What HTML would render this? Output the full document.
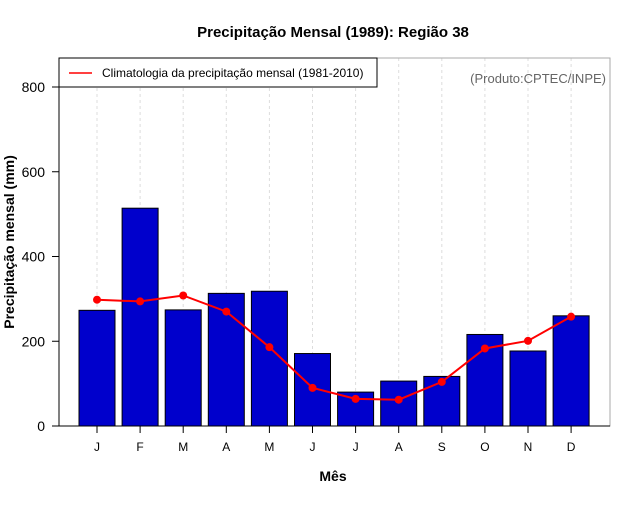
<!DOCTYPE html>
<html><head><meta charset="utf-8"><style>
body{margin:0;background:#fff}svg{font-family:"Liberation Sans",sans-serif}
</style></head><body>
<svg width="640" height="500">
<text x="333" y="37" font-size="15" font-weight="bold" text-anchor="middle">Precipitação Mensal (1989): Região 38</text>
<g id="grid"></g>
<rect x="59" y="58" width="551" height="368" fill="none" stroke="#aaa"/>
<g id="bars"></g><g id="line"></g>
<line x1="59" y1="58" x2="59" y2="426" stroke="#000"/>
<line x1="59" y1="426" x2="610" y2="426" stroke="#000"/>
<g id="axes"></g>
<g>
<rect x="59" y="58" width="318" height="29" fill="#fff" stroke="#000"/>
<line x1="69" y1="73" x2="92" y2="73" stroke="red" stroke-width="1.5"/>
<text x="102" y="77" font-size="12">Climatologia da precipitação mensal (1981-2010)</text>
</g>
<text x="606" y="83" font-size="13" fill="#666" text-anchor="end">(Produto:CPTEC/INPE)</text>
<text x="333" y="481" font-size="14" font-weight="bold" text-anchor="middle">Mês</text>
<text transform="translate(14,242) rotate(-90)" font-size="14" font-weight="bold" text-anchor="middle">Precipitação mensal (mm)</text>
</svg>
<script>
const months=["J","F","M","A","M","J","J","A","S","O","N","D"];
const observed=[273,514,274,313,318,171,80,106,117,216,177,260];
const climatology=[298,294,308,270,186,90,64,62,104,183,201,258];
const yTicks=[0,200,400,600,800];
const NS="http://www.w3.org/2000/svg";
const xs=i=>97+43.1*i, ys=v=>426-v*0.42375;
function mk(t,a,p){const e=document.createElementNS(NS,t);for(const k in a)e.setAttribute(k,a[k]);document.getElementById(p).appendChild(e);return e;}
months.forEach((m,i)=>{
 const g=mk('line',{x1:xs(i),x2:xs(i),y1:58,y2:426,stroke:'#ddd','stroke-dasharray':'3,3'},'grid');
 
 
 const b=mk('rect',{x:xs(i)-18,y:ys(observed[i]),width:36,height:426-ys(observed[i]),fill:'#0000cc',stroke:'#000'},'bars');
 
 
 const t=mk('line',{x1:xs(i),x2:xs(i),y1:426,y2:433,stroke:'#000'},'axes');
 
 
 const l=mk('text',{x:xs(i),y:451,'font-size':12,'text-anchor':'middle'},'axes');l.textContent=m;
 
 
});
const pl=mk('polyline',{points:climatology.map((v,i)=>xs(i)+','+ys(v)).join(' '),fill:'none',stroke:'red','stroke-width':2},'line');


climatology.forEach((v,i)=>{const c=mk('circle',{cx:xs(i),cy:ys(v),r:4,fill:'red'},'line');
 
 });
yTicks.forEach(v=>{
 const t=mk('line',{x1:52,x2:59,y1:ys(v),y2:ys(v),stroke:'#000'},'axes');
 
 
 const l=mk('text',{x:45,y:ys(v)+5,'font-size':14,'text-anchor':'end'},'axes');l.textContent=v;
 
 
});
</script>
</body></html>
